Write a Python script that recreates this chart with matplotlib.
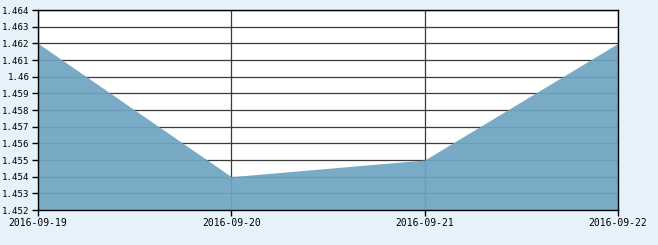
import matplotlib
matplotlib.use("Agg")
import matplotlib.pyplot as plt

dates = ["2016-09-19", "2016-09-20", "2016-09-21", "2016-09-22"]
values = [1.462, 1.454, 1.455, 1.462]
yticks = [1.452, 1.453, 1.454, 1.455, 1.456, 1.457, 1.458, 1.459, 1.46, 1.461, 1.462, 1.463, 1.464]
ytick_labels = ["1.452", "1.453", "1.454", "1.455", "1.456", "1.457", "1.458", "1.459", "1.46", "1.461", "1.462", "1.463", "1.464"]

bg = "#E6F2FA"
fig = plt.figure(figsize=(6.58, 2.45), dpi=100, facecolor=bg)
ax = fig.add_axes([38/658, 1-210/245, 580/658, 200/245])
ax.set_facecolor("white")

x = list(range(len(dates)))
ax.set_xlim(0, len(dates)-1)
ax.set_ylim(1.452, 1.464)
ax.set_yticks(yticks)
ax.set_yticklabels(ytick_labels)
ax.set_xticks(x)
ax.set_xticklabels(dates)
ax.grid(True, color="#3a3a3a", linewidth=0.9, zorder=0)
ax.set_axisbelow(True)
ax.fill_between(x, values, 1.452, color="#6FA5C3", alpha=0.93, linewidth=0, zorder=2)

for s in ax.spines.values():
    s.set_color("black")
    s.set_linewidth(1)
    s.set_zorder(3)
ax.tick_params(axis="both", direction="out", length=4, width=1, color="black", pad=2)
for lab in ax.get_xticklabels():
    lab.set_family("DejaVu Sans Mono")
    lab.set_fontsize(7)
for lab in ax.get_yticklabels():
    lab.set_family("DejaVu Sans Mono")
    lab.set_fontsize(6.6)

fig.savefig("out.png", dpi=100, facecolor=bg)
